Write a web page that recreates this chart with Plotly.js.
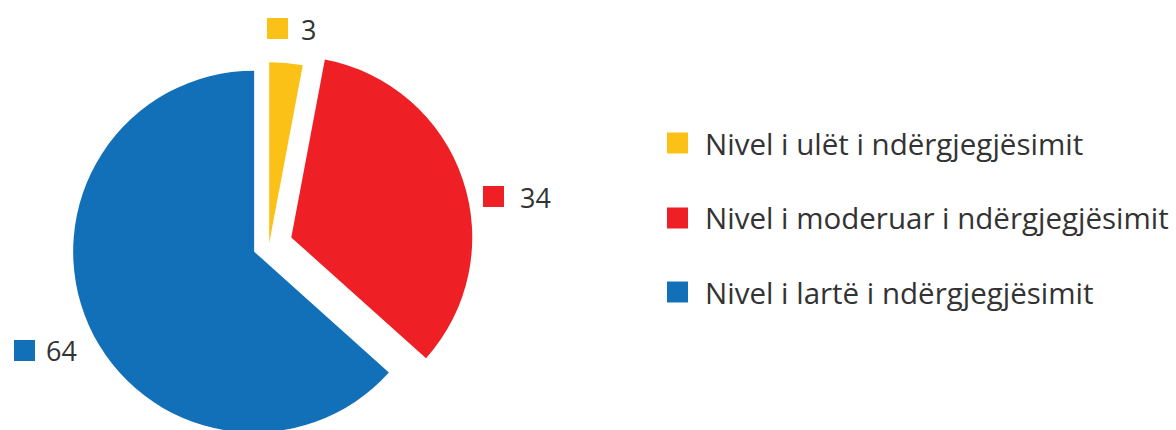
<!DOCTYPE html>
<html>
<head>
<meta charset="utf-8">
<script src="https://cdn.plot.ly/plotly-3.0.1.min.js"></script>
<style>
  html, body { margin: 0; padding: 0; overflow: hidden; background: #fff; }
  #chart { width: 1176px; height: 500px; }
</style>
</head>
<body>
<div id="chart"></div>
<script>
// ---- data ----
const categories = [
  "Nivel i ulët i ndërgjegjësimit",
  "Nivel i moderuar i ndërgjegjësimit",
  "Nivel i lartë i ndërgjegjësimit"
];
const values = [3, 34, 64];
const colors = ["#FCC116", "#EE1F25", "#1270B9"];

// ---- layout helpers ----
const W = 1176, H = 500;
const px = x => x / W;
const py = y => 1 - y / H;

const FONT = "Open Sans, sans-serif";
const TEXT_COLOR = "#333333";

const trace = {
  type: "pie",
  values: values,
  labels: categories,
  marker: { colors: colors, line: { width: 0 } },
  sort: false,
  direction: "clockwise",
  rotation: 0,
  pull: [0.01, 0.13, 0.09],
  textinfo: "none",
  hoverinfo: "label+value",
  showlegend: false,
  domain: { x: [0.05485, 0.40264], y: [0.06, 0.96] }
};

// value labels (square + number) placed beside each slice
const labelPos = [
  { sq: [267, 18], tx: [299, 29] },
  { sq: [483, 186], tx: [518, 197] },
  { sq: [14, 340], tx: [44, 350] }
];
// legend rows
const legendRows = [143, 218, 292];
const SQ = 21;

const shapes = [];
const annotations = [];
values.forEach((v, i) => {
  const p = labelPos[i];
  shapes.push({
    type: "rect", xref: "paper", yref: "paper",
    x0: px(p.sq[0]), x1: px(p.sq[0] + SQ),
    y0: py(p.sq[1]), y1: py(p.sq[1] + SQ),
    fillcolor: colors[i], line: { width: 0 }
  });
  annotations.push({
    xref: "paper", yref: "paper",
    x: px(p.tx[0]), y: py(p.tx[1]),
    xanchor: "left", yanchor: "middle",
    text: String(v), showarrow: false,
    font: { family: FONT, size: 27, color: TEXT_COLOR }
  });
});
categories.forEach((c, i) => {
  const yc = legendRows[i];
  shapes.push({
    type: "rect", xref: "paper", yref: "paper",
    x0: px(667), x1: px(667 + SQ),
    y0: py(yc - SQ / 2), y1: py(yc + SQ / 2),
    fillcolor: colors[i], line: { width: 0 }
  });
  annotations.push({
    xref: "paper", yref: "paper",
    x: px(703), y: py(yc),
    xanchor: "left", yanchor: "middle",
    text: c, showarrow: false,
    font: { family: FONT, size: 29.5, color: TEXT_COLOR }
  });
});

const layout = {
  width: W,
  height: H,
  margin: { l: 0, r: 0, t: 0, b: 0, autoexpand: false },
  paper_bgcolor: "#ffffff",
  plot_bgcolor: "#ffffff",
  showlegend: false,
  shapes: shapes,
  annotations: annotations,
  font: { family: FONT, color: TEXT_COLOR }
};

Plotly.newPlot("chart", [trace], layout, { displayModeBar: false, staticPlot: true });
</script>
</body>
</html>
